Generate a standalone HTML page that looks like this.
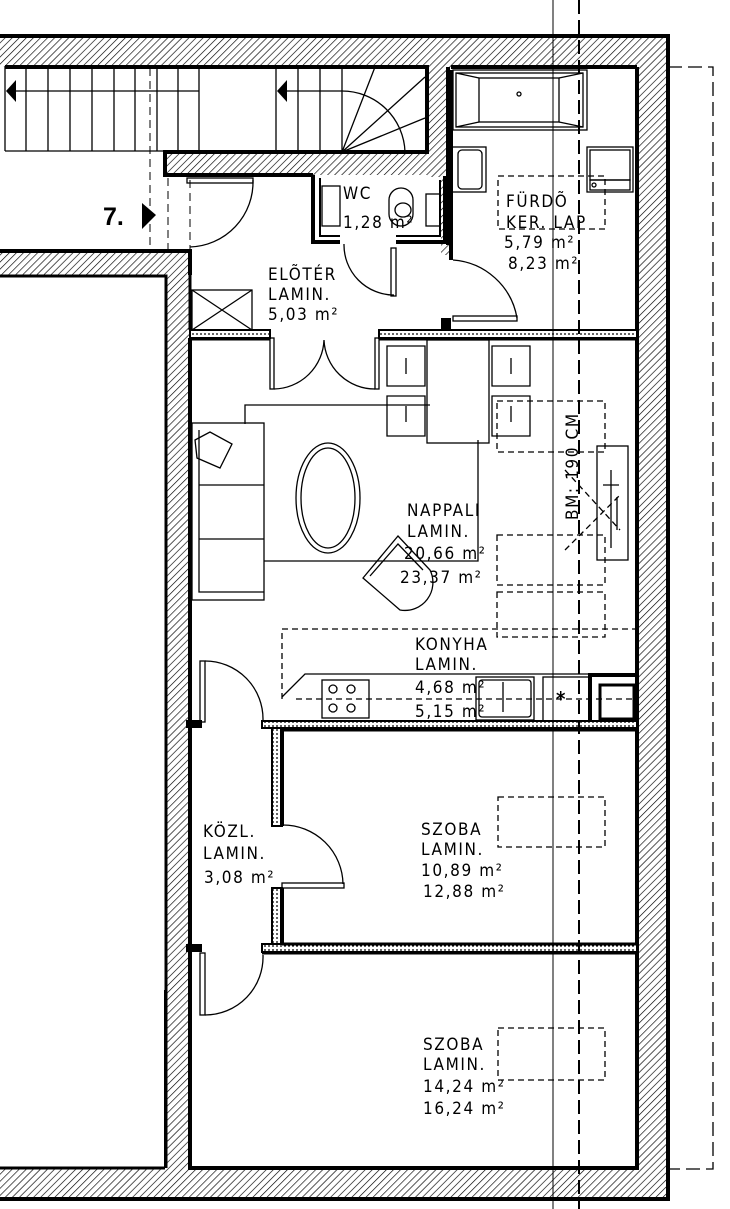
<!DOCTYPE html>
<html><head><meta charset="utf-8"><style>
html,body{margin:0;padding:0;background:#fff;}
svg{display:block;}
text{font-family:"DejaVu Sans Condensed","DejaVu Sans","Liberation Sans",sans-serif;font-size:17px;letter-spacing:1.6px;fill:#000;}
</style></head><body>
<svg width="730" height="1209" viewBox="0 0 730 1209" xmlns="http://www.w3.org/2000/svg">
<defs>
<pattern id="h" patternUnits="userSpaceOnUse" width="5" height="5" patternTransform="rotate(45)">
<rect width="5" height="5" fill="#fff"/><line x1="0" y1="0" x2="0" y2="5" stroke="#000" stroke-width="1.3"/>
</pattern>
<pattern id="h2" patternUnits="userSpaceOnUse" width="4" height="4">
<rect width="4" height="4" fill="#fff"/><line x1="0" y1="2" x2="2" y2="2" stroke="#000" stroke-width="1.2"/>
</pattern>
</defs>

<g stroke="#000" stroke-width="1">
<rect x="0" y="35" width="668" height="32" fill="url(#h)" stroke="none"/>
<rect x="637" y="35" width="31" height="1165" fill="url(#h)" stroke="none"/>
<rect x="0" y="1169" width="668" height="31" fill="url(#h)" stroke="none"/>
<rect x="166" y="250" width="24" height="920" fill="url(#h)" stroke="none"/>
<rect x="0" y="250" width="190" height="26" fill="url(#h)" stroke="none"/>
<rect x="165" y="152" width="283" height="23" fill="url(#h)" stroke="none"/>
<rect x="427" y="67" width="23" height="110" fill="url(#h)" stroke="none"/>
<rect x="441" y="67" width="10" height="188" fill="url(#h)" stroke="none"/>
</g>
<g fill="none" stroke="#000">
<path d="M0 36 H668 V1199 H0" stroke-width="4"/>
<path d="M637 67 V1168 H190 V338" stroke-width="4"/>
<path d="M0 1168 H165" stroke-width="3"/>
<path d="M165 1168 V990" stroke-width="2"/>
<path d="M0 251 H190 V275" stroke-width="4"/>
<path d="M0 276 H166 V1168" stroke-width="3"/>
<path d="M190 275 V330" stroke-width="3"/>
<path d="M5 67 H427 V152 H165 V175 H313" stroke-width="4"/>
<path d="M451 67 H637" stroke-width="4"/>
<path d="M448 67 V245" stroke-width="4"/>
<path d="M313 175 V242 H340" stroke-width="4"/>
<path d="M320 178 V236 H340" stroke-width="2"/>
<path d="M396 242 H445 V176" stroke-width="4"/>
<path d="M396 236 H440 V180" stroke-width="2"/>
<path d="M451 70 V260" stroke-width="4"/>
</g>

<g fill="none" stroke="#000" stroke-width="1.3">
<line x1="5" y1="151" x2="165" y2="151"/>
<line x1="5" y1="67" x2="5" y2="151"/>
<path d="M26 67V151M48 67V151M70 67V151M92 67V151M114 67V151M135 67V151M157 67V151M178 67V151M199 67V151M276 67V152M298 67V152M320 67V152M342 67V152"/>
<line x1="10" y1="91" x2="199" y2="91"/>
<line x1="282" y1="91" x2="342" y2="91"/>
<path d="M342 91 A63 63 0 0 1 405 152"/>
<path d="M342 152 L375 67 M342 152 L425 77 M342 152 L425 118"/>
</g>
<polygon points="6,91 16,80 16,102" fill="#000"/>
<polygon points="277,91 287,80 287,102" fill="#000"/>
<line x1="150" y1="68" x2="150" y2="250" stroke="#000" stroke-dasharray="8,5"/>
<line x1="168" y1="178" x2="168" y2="250" stroke="#000" stroke-dasharray="8,5"/>
<line x1="190" y1="180" x2="190" y2="250" stroke="#000" stroke-dasharray="8,5"/>

<text x="103" y="225" style="font-family:'Liberation Sans',sans-serif;font-weight:bold;font-size:25px;letter-spacing:0">7.</text>
<polygon points="142,203 156,215 142,229" fill="#000"/>
<g fill="none" stroke="#000" stroke-width="1.3">
<rect x="187" y="178" width="66" height="5"/>
<path d="M253 180 A65 65 0 0 1 190 247"/>
<rect x="192" y="290" width="60" height="40"/>
<path d="M192 290 L252 330 M252 290 L192 330"/>
<path d="M344 244 A50 50 0 0 0 394 295"/>
<rect x="391" y="248" width="5" height="48"/>
<path d="M453 260 A70 70 0 0 1 517 318"/>
<rect x="453" y="316" width="64" height="5"/>
</g>

<rect x="190" y="330" width="80" height="8" fill="url(#h2)" stroke="#000" stroke-width="2"/>
<rect x="379" y="330" width="258" height="8" fill="url(#h2)" stroke="#000" stroke-width="2"/>
<line x1="190" y1="339" x2="270" y2="339" stroke="#000" stroke-width="3"/>
<line x1="379" y1="339" x2="637" y2="339" stroke="#000" stroke-width="3"/>
<rect x="441" y="318" width="10" height="12" fill="#000"/>
<g fill="none" stroke="#000" stroke-width="1.3">
<rect x="270" y="338" width="4" height="51"/>
<rect x="375" y="338" width="4" height="51"/>
<path d="M274 389 A51 51 0 0 0 324 340 M375 389 A51 51 0 0 1 324 340"/>
</g>

<g fill="none" stroke="#000" stroke-width="1.3">
<rect x="453" y="70" width="134" height="60"/>
<rect x="456" y="73" width="127" height="54"/>
<rect x="479" y="78" width="80" height="44"/>
<path d="M456 73 L479 78 M583 73 L559 78 M456 127 L479 122 M583 127 L559 122"/>
<circle cx="519" cy="94" r="2"/>
<rect x="452" y="147" width="34" height="45"/>
<rect x="458" y="150" width="24" height="39" rx="4"/>
<rect x="587" y="147" width="46" height="45"/>
<rect x="590" y="150" width="40" height="30"/>
<rect x="590" y="180" width="40" height="10"/>
<circle cx="594" cy="185" r="2"/>
<rect x="322" y="186" width="18" height="40"/>
<path d="M389 200 a12 12 0 0 1 24 0 v14 a12 12 0 0 1 -24 0 z"/>
<ellipse cx="403" cy="210" rx="8" ry="7"/>
<rect x="426" y="194" width="14" height="32"/>
</g>
<rect x="498" y="176" width="107" height="53" fill="none" stroke="#000" stroke-width="1.3" stroke-dasharray="6,4"/>

<g fill="none" stroke="#000" stroke-width="1.3">
<path d="M245 424 V405 H430"/>
<rect x="192" y="423" width="72" height="177"/>
<path d="M199 430 V592 H264 M199 485 H264 M199 539 H264"/>
<path d="M195 440 L210 432 L232 444 L220 468 L197 458 Z"/>
<path d="M264 561 H478 V440"/>
<ellipse cx="328" cy="498" rx="32" ry="55"/>
<ellipse cx="328" cy="498" rx="27" ry="50"/>
<path d="M363 578 L398 536 L430 570 A28 28 0 0 1 400 610 Z"/>
<path d="M370 576 L398 544 L423 570"/>
<rect x="427" y="340" width="62" height="103"/>
<path d="M387 346 h38 v40 h-38 z"/>
<path d="M492 346 h38 v40 h-38 z"/>
<path d="M387 396 h38 v40 h-38 z"/>
<path d="M492 396 h38 v40 h-38 z"/>
<path d="M406 358 v16 M511 358 v16 M406 406 v16 M511 406 v16"/>
<rect x="597" y="446" width="31" height="114"/>
<path d="M611 470 V548 M603 485 H619 M617 497 V530"/>
</g>
<g fill="none" stroke="#000" stroke-width="1.3" stroke-dasharray="6,4">
<rect x="497" y="401" width="108" height="51"/>
<rect x="497" y="535" width="108" height="50"/>
<rect x="497" y="592" width="108" height="45"/>
<path d="M565 550 L620 495 M565 470 L620 530"/>
<path d="M282 699 V629 H637"/>
<path d="M296 699 H637"/>
</g>

<g fill="none" stroke="#000" stroke-width="1.3">
<path d="M282 697 L305 674 H590"/>
<rect x="322" y="680" width="47" height="38"/>
<circle cx="333" cy="689" r="4"/><circle cx="351" cy="689" r="4"/>
<circle cx="333" cy="708" r="4"/><circle cx="351" cy="708" r="4"/>
<rect x="476" y="677" width="58" height="43"/>
<rect x="479" y="680" width="52" height="37" rx="3"/>
<path d="M503 682 V712"/>
<rect x="543" y="677" width="46" height="45"/>
</g>
<text x="556" y="706" style="font-size:20px;font-weight:bold;letter-spacing:0">*</text>
<rect x="590" y="675" width="47" height="47" fill="none" stroke="#000" stroke-width="4"/>
<rect x="600" y="685" width="34" height="34" fill="none" stroke="#000" stroke-width="3"/>

<rect x="262" y="721" width="375" height="7" fill="url(#h2)" stroke="#000" stroke-width="2"/>
<line x1="282" y1="730" x2="637" y2="730" stroke="#000" stroke-width="3"/>
<rect x="186" y="720" width="16" height="8" fill="#000"/>
<rect x="272" y="728" width="10" height="98" fill="url(#h2)" stroke="#000" stroke-width="2"/>
<rect x="272" y="888" width="10" height="60" fill="url(#h2)" stroke="#000" stroke-width="2"/>
<line x1="282" y1="728" x2="282" y2="826" stroke="#000" stroke-width="4"/>
<line x1="282" y1="888" x2="282" y2="948" stroke="#000" stroke-width="4"/>
<rect x="262" y="944" width="375" height="8" fill="url(#h2)" stroke="#000" stroke-width="2"/>
<line x1="282" y1="944" x2="637" y2="944" stroke="#000" stroke-width="3"/>
<line x1="262" y1="953" x2="637" y2="953" stroke="#000" stroke-width="3"/>
<rect x="186" y="944" width="16" height="8" fill="#000"/>

<g fill="none" stroke="#000" stroke-width="1.3">
<rect x="200" y="661" width="5" height="61"/>
<path d="M205 661 A58 58 0 0 1 263 720"/>
<rect x="282" y="883" width="62" height="5"/>
<path d="M283 825 A60 60 0 0 1 343 884"/>
<rect x="200" y="953" width="5" height="62"/>
<path d="M205 1015 A58 58 0 0 0 263 955"/>
</g>
<rect x="498" y="797" width="107" height="50" fill="none" stroke="#000" stroke-width="1.3" stroke-dasharray="6,4"/>
<rect x="498" y="1028" width="107" height="52" fill="none" stroke="#000" stroke-width="1.3" stroke-dasharray="6,4"/>

<line x1="553" y1="0" x2="553" y2="1209" stroke="#000" stroke-width="1"/>
<line x1="579" y1="0" x2="579" y2="1209" stroke="#000" stroke-width="2" stroke-dasharray="14,6"/>
<path d="M668 67 H713 V1169 H668" fill="none" stroke="#000" stroke-width="1.3" stroke-dasharray="14,6"/>

<text x="343" y="199">WC</text>
<text x="343" y="228">1,28 m²</text>
<text x="268" y="280">ELÕTÉR</text>
<text x="268" y="300">LAMIN.</text>
<text x="268" y="320">5,03 m²</text>
<text x="506" y="207">FÜRDÕ</text>
<text x="506" y="228">KER. LAP</text>
<text x="504" y="248">5,79 m²</text>
<text x="508" y="269">8,23 m²</text>
<text x="407" y="516">NAPPALI</text>
<text x="407" y="537">LAMIN.</text>
<text x="404" y="559">20,66 m²</text>
<text x="400" y="583">23,37 m²</text>
<text transform="translate(578,520) rotate(-90)">BM: 190 CM</text>
<text x="415" y="650">KONYHA</text>
<text x="415" y="670">LAMIN.</text>
<text x="415" y="693">4,68 m²</text>
<text x="415" y="717">5,15 m²</text>
<text x="203" y="837">KÖZL.</text>
<text x="203" y="859">LAMIN.</text>
<text x="204" y="883">3,08 m²</text>
<text x="421" y="835">SZOBA</text>
<text x="421" y="855">LAMIN.</text>
<text x="421" y="876">10,89 m²</text>
<text x="423" y="897">12,88 m²</text>
<text x="423" y="1050">SZOBA</text>
<text x="423" y="1070">LAMIN.</text>
<text x="423" y="1092">14,24 m²</text>
<text x="423" y="1114">16,24 m²</text>
</svg>
</body></html>
